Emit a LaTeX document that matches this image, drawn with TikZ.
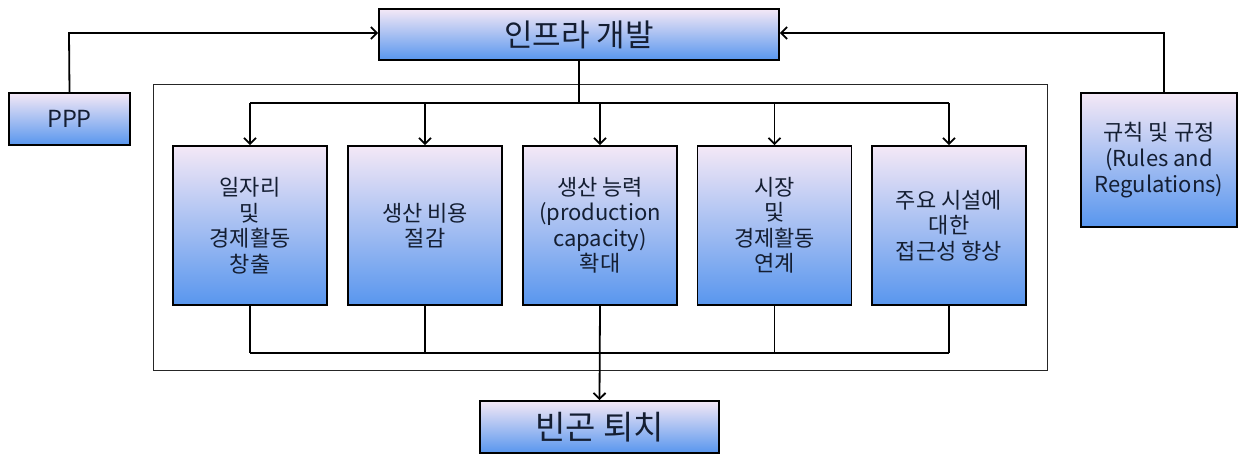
\documentclass[tikz,border=0pt]{standalone}
\usepackage{fontspec}
\setmainfont{Noto Sans CJK KR}
\usetikzlibrary{arrows.meta}
\definecolor{gtop}{RGB}{244,232,246}
\definecolor{gbot}{RGB}{88,150,238}
\definecolor{txt}{RGB}{20,30,50}
\tikzset{
  pbox/.style={draw=black, line width=1.6pt, top color=gtop, bottom color=gbot,
    align=center, inner sep=0pt, text=txt},
  midbox/.style={pbox, minimum width=154pt, minimum height=159pt,
    font=\fontsize{22}{25.5}\selectfont},
  conn/.style={line width=1.8pt, draw=black},
  arr/.style={conn, -{Straight Barb[length=6pt,width=12pt,line width=1.8pt]}},
}
\begin{document}
\begin{tikzpicture}[x=1pt,y=-1pt]
\useasboundingbox (0,0) rectangle (1248,455);
% frame
\node[draw=black!85, line width=0.8pt, minimum width=894pt, minimum height=286pt, inner sep=0pt] (frame) at (600,227) {};
% main boxes
\node[pbox, minimum width=400pt, minimum height=51pt, font=\fontsize{31}{33}\selectfont] (top) at (579,34.5) {인프라 개발};
\node[pbox, minimum width=121pt, minimum height=52pt, font=\fontsize{23.5}{26}\selectfont] (ppp) at (69.5,119) {PPP};
\node[pbox, minimum width=156pt, minimum height=134pt, font=\fontsize{22}{26}\selectfont] (rules) at (1159,160) {규칙 및 규정\\(Rules and\\Regulations)};
\node[pbox, minimum width=239pt, minimum height=52pt, font=\fontsize{33}{35}\selectfont] (bottom) at (599.5,427) {빈곤 퇴치};
% five boxes
\node[midbox] (b1) at (250,225.5) {일자리\\및\\경제활동\\창출};
\node[midbox] (b2) at (425,225.5) {생산 비용\\절감};
\node[midbox] (b3) at (600,225.5) {생산 능력\\(production\\capacity)\\확대};
\node[midbox] (b4) at (774.5,225.5) {시장\\및\\경제활동\\연계};
\node[midbox] (b5) at (949,225.5) {주요 시설에\\대한\\접근성 향상};
% coordinates
\coordinate (pl) at (69,33);
\coordinate (pr) at (1164,33);
\coordinate (rt) at (1164,93);
\coordinate (d1) at (250,103);
\coordinate (d5) at (949,103);
\coordinate (c1) at (250,353);
\coordinate (c5) at (949,353);
% side inputs
\draw[arr] (ppp.north) -- (pl) -- (top.west |- pl);
\draw[arr] (rt) -- (pr) -- (top.east |- pr);
% distribution
\draw[conn] (top.south) -- (top.south |- d1);
\draw[conn] (d1) -- (d5);
\foreach \b in {b1,b2,b3,b4,b5}
  \draw[arr] (\b.north |- d1) -- (\b.north);
% collection
\foreach \b in {b1,b2,b4,b5}
  \draw[conn] (\b.south) -- (\b.south |- c1);
\draw[conn] (c1) -- (c5);
\draw[arr] (b3.south) -- (bottom.north);
\end{tikzpicture}
\end{document}
